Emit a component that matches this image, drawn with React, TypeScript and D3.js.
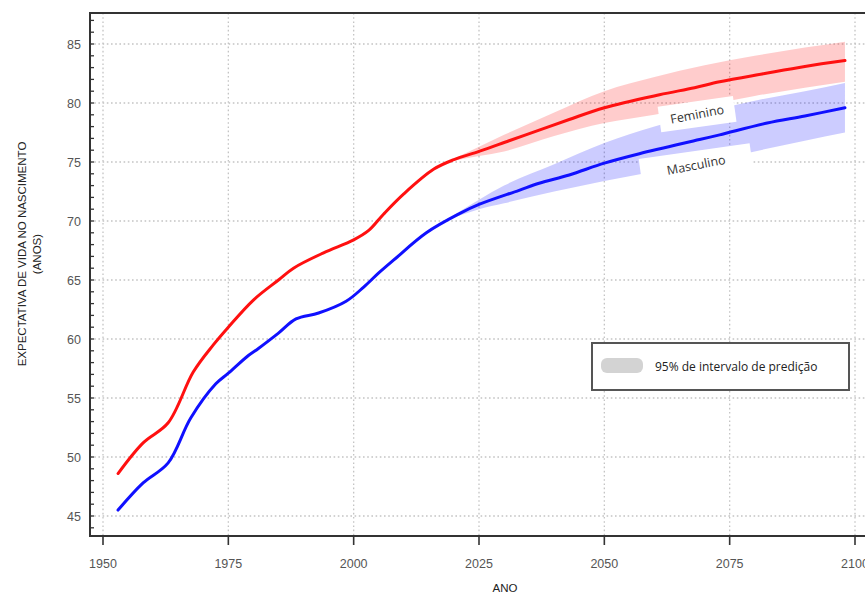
import React from "react";
import * as d3 from "d3";

// ---- data ----
const femYears = [1953, 1958, 1963, 1968, 1972, 1975, 1980, 1985, 1988, 1994, 2000, 2003, 2006, 2010, 2016, 2020, 2025, 2031, 2037, 2043, 2050, 2061, 2068, 2073, 2082, 2090, 2098];
const femValues = [48.6, 51.2, 52.9, 57.2, 59.5, 61.0, 63.3, 65.0, 66.0, 67.3, 68.4, 69.2, 70.6, 72.3, 74.4, 75.2, 75.9, 76.8, 77.7, 78.6, 79.6, 80.7, 81.3, 81.8, 82.5, 83.1, 83.6];

const mascYears = [1953, 1958, 1963, 1967.5, 1972.5, 1975, 1979, 1981, 1985, 1988.5, 1993, 1998.5, 2002, 2005, 2008, 2014.5, 2021, 2025, 2033, 2037, 2043, 2050, 2057, 2069, 2073, 2082.5, 2090, 2098];
const mascValues = [45.5, 47.8, 49.5, 53.3, 56.2, 57.1, 58.6, 59.2, 60.5, 61.7, 62.2, 63.2, 64.4, 65.6, 66.7, 69.0, 70.6, 71.4, 72.6, 73.2, 73.9, 74.9, 75.7, 76.9, 77.3, 78.3, 78.9, 79.6];

const bandYears = [2020, 2025, 2030, 2040, 2050, 2060, 2070, 2080, 2090, 2098];
const femUpper = [75.3, 76.3, 77.3, 79.2, 81.0, 82.2, 83.2, 84.0, 84.7, 85.2];
const femLower = [75.1, 75.5, 75.9, 77.2, 78.3, 79.0, 79.8, 80.6, 81.3, 81.8];
const mascUpper = [70.5, 71.8, 73.0, 74.8, 76.6, 78.0, 79.2, 80.2, 81.0, 81.7];
const mascLower = [70.3, 71.0, 71.5, 72.5, 73.4, 74.2, 75.0, 75.9, 76.8, 77.5];

const xTicks = [1950, 1975, 2000, 2025, 2050, 2075, 2100];
const yTicks = [45, 50, 55, 60, 65, 70, 75, 80, 85];
const yMinorTicks = d3.range(44, 88, 1);

const femLabel = { text: "Feminino", year: 2068.5, value: 79.05 };
const mascLabel = { text: "Masculino", year: 2068.3, value: 74.75 };
const legendText = "95% de intervalo de predição";
const yTitle1 = "EXPECTATIVA DE VIDA NO NASCIMENTO";
const yTitle2 = "(ANOS)";
const xTitle = "ANO";

// ---- layout ----
const W = 865;
const H = 594;
const frameLeft = 90;
const frameTop = 13;
const frameBottom = 536;
const frameRight = 872;

const x = d3.scaleLinear().domain([1950, 2100]).range([103, 855]);
const y = d3.scaleLinear().domain([45, 85]).range([516, 44]);

const lineGen = d3
  .line<[number, number]>()
  .x((d) => x(d[0]))
  .y((d) => y(d[1]))
  .curve(d3.curveCatmullRom.alpha(0.5));

const areaGen = d3
  .area<{ yr: number; lo: number; hi: number }>()
  .x((d) => x(d.yr))
  .y0((d) => y(d.lo))
  .y1((d) => y(d.hi))
  .curve(d3.curveMonotoneX);

const femPts = femYears.map((yr, i) => [yr, femValues[i]] as [number, number]);
const mascPts = mascYears.map((yr, i) => [yr, mascValues[i]] as [number, number]);
const femBand = bandYears.map((yr, i) => ({ yr, lo: femLower[i], hi: femUpper[i] }));
const mascBand = bandYears.map((yr, i) => ({ yr, lo: mascLower[i], hi: mascUpper[i] }));

const axisFont = "'Liberation Sans', Arial, sans-serif";
const labelFont = "'Open Sans', 'Noto Sans', sans-serif";

export default function App() {
  return (
    <svg
      width={W}
      height={H}
      viewBox={`0 0 ${W} ${H}`}
      style={{ position: "absolute", left: 0, top: 0, background: "#fff" }}
    >
      <rect x={0} y={0} width={W} height={H} fill="#fff" />
      {/* grid */}
      {yTicks.map((t) => (
        <line
          key={"gy" + t}
          x1={frameLeft}
          x2={W}
          y1={y(t)}
          y2={y(t)}
          stroke="#c4c4c4"
          strokeWidth={1.3}
          strokeDasharray="1.6,2.6"
        />
      ))}
      {xTicks.map((t) => (
        <line
          key={"gx" + t}
          x1={x(t)}
          x2={x(t)}
          y1={frameTop}
          y2={frameBottom}
          stroke="#c4c4c4"
          strokeWidth={1.3}
          strokeDasharray="1.6,2.6"
        />
      ))}

      {/* prediction bands */}
      <path d={areaGen(femBand) || ""} fill="#ff0000" fillOpacity={0.2} />
      <path d={areaGen(mascBand) || ""} fill="#0000ff" fillOpacity={0.2} />

      {/* label boxes */}
      <g transform={`translate(${x(femLabel.year)},${y(femLabel.value)}) rotate(-8)`}>
        <rect x={-38} y={-13} width={76} height={26} fill="#fff" />
        <text
          x={0}
          y={0}
          dy="0.36em"
          textAnchor="middle"
          fontFamily={labelFont}
          fontSize={12.5}
          fill="#333"
          transform="rotate(-3)"
        >
          {femLabel.text}
        </text>
      </g>
      <g transform={`translate(${x(mascLabel.year)},${y(mascLabel.value)}) rotate(-8)`}>
        <rect x={-56} y={-14} width={112} height={36} fill="#fff" />
        <text
          x={0}
          y={0}
          dy="0.36em"
          textAnchor="middle"
          fontFamily={labelFont}
          fontSize={12.5}
          fill="#333"
          transform="rotate(-3)"
        >
          {mascLabel.text}
        </text>
      </g>

      {/* lines */}
      <path d={lineGen(femPts) || ""} fill="none" stroke="#ff1010" strokeWidth={3} strokeLinejoin="round" strokeLinecap="round" />
      <path d={lineGen(mascPts) || ""} fill="none" stroke="#1010ff" strokeWidth={3} strokeLinejoin="round" strokeLinecap="round" />

      {/* frame */}
      <line x1={frameLeft} x2={frameRight} y1={frameTop} y2={frameTop} stroke="#333" strokeWidth={2} />
      <line x1={frameLeft} x2={frameRight} y1={frameBottom} y2={frameBottom} stroke="#333" strokeWidth={2} />
      <line x1={frameLeft} x2={frameLeft} y1={frameTop - 1} y2={frameBottom + 1} stroke="#333" strokeWidth={2} />

      {/* y minor ticks */}
      {yMinorTicks.map((t) => (
        <line key={"ym" + t} x1={frameLeft} x2={frameLeft + 4} y1={y(t)} y2={y(t)} stroke="#333" strokeWidth={1.3} />
      ))}
      {/* y labels */}
      {yTicks.map((t) => (
        <text
          key={"yl" + t}
          x={81}
          y={y(t)}
          dy="0.38em"
          textAnchor="end"
          fontFamily={axisFont}
          fontSize={12.5}
          fill="#555"
        >
          {t}
        </text>
      ))}
      {/* x ticks and labels */}
      {xTicks.map((t) => (
        <g key={"xt" + t}>
          <line x1={x(t)} x2={x(t)} y1={frameBottom} y2={frameBottom + 9} stroke="#333" strokeWidth={1.6} />
          <text x={x(t)} y={568} textAnchor="middle" fontFamily={axisFont} fontSize={12.5} fill="#555">
            {t}
          </text>
        </g>
      ))}

      {/* axis titles */}
      <text x={505} y={592} textAnchor="middle" fontFamily={axisFont} fontSize={11.5} fill="#222">
        {xTitle}
      </text>
      <g transform="translate(26,254) rotate(-90)">
        <text x={0} y={0} textAnchor="middle" fontFamily={axisFont} fontSize={11.5} fill="#222">
          {yTitle1}
        </text>
        <text x={0} y={15} textAnchor="middle" fontFamily={axisFont} fontSize={11.5} fill="#222">
          {yTitle2}
        </text>
      </g>

      {/* legend */}
      <rect x={592} y={343} width={257} height={47} fill="#fff" stroke="#555" strokeWidth={2} />
      <rect x={601} y={358} width={42} height={15} rx={6} fill="#d3d3d3" />
      <text x={655} y={371} fontFamily={labelFont} fontSize={12} fill="#222">
        {legendText}
      </text>
    </svg>
  );
}
